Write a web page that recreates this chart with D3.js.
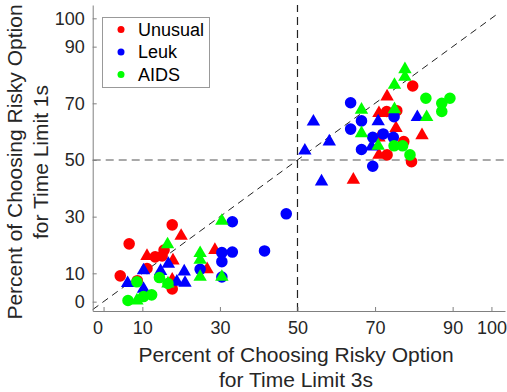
<!DOCTYPE html>
<html><head><meta charset="utf-8">
<script src="https://cdn.jsdelivr.net/npm/d3@7"></script>
<style>body{margin:0;background:#fff}svg{display:block;font-family:"Liberation Sans",Arial,sans-serif}</style>
</head><body><svg id="c" width="507" height="392"></svg>
<script>
const seriesNames = ["Unusual", "Leuk", "AIDS"];
const seriesColors = ["#ff0000", "#0000ff", "#00ff00"];
const tickValues = [0, 10, 30, 50, 70, 90, 100];

// Unusual (red)
const unusualX     = [6.6, 17.7, 4.3, 11.2, 13.3, 15.1, 15.6, 17.7, 8.7, 79.7, 73.0, 75.6, 77.4, 73.1, 79.4,
                      20.0, 11.2, 17.9, 28.7, 26.7, 17.7, 73.1, 71.0, 75.4, 82.1, 71.0, 71.0, 64.4];
const unusualY     = [20.4, 27.1, 9.1, 11.7, 15.8, 16.1, 18.2, 4.5, 7.4, 76.1, 67.1, 67.4, 56.5, 51.8, 49.4,
                      23.2, 16.1, 14.5, 18.2, 11.4, 7.7, 72.4, 66.5, 61.2, 58.7, 57.9, 51.8, 43.0];
const unusualShape = ["o","o","o","o","o","o","o","o","o","o","o","o","o","o","o",
                      "^","^","^","^","^","^","^","^","^","^","^","^","^"];
// Leuk (blue)
const leukX     = [33.2, 30.5, 33.2, 30.5, 24.9, 30.5, 41.5, 47.1, 63.7, 66.5, 63.7, 74.9, 69.4, 72.1, 74.7, 66.5, 69.4,
                   10.3, 14.7, 16.7, 20.8, 6.2, 10.3, 18.9, 21.0, 54.1, 58.2, 51.9, 56.2, 70.8, 80.9, 69.1];
const leukY     = [28.2, 17.3, 17.5, 14.1, 11.4, 8.7, 17.9, 31.0, 70.2, 63.8, 60.9, 65.3, 58.0, 59.2, 58.0, 53.7, 47.8,
                   11.0, 10.8, 13.3, 10.6, 6.5, 4.5, 7.0, 6.6, 63.5, 56.5, 53.3, 42.4, 63.6, 65.1, 54.7];
const leukShape = ["o","o","o","o","o","o","o","o","o","o","o","o","o","o","o","o","o",
                   "^","^","^","^","^","^","^","^","^","^","^","^","^","^","^"];
// AIDS (green)
const aidsX     = [8.6, 14.4, 6.3, 10.3, 12.4, 16.6, 83.1, 87.2, 89.3, 87.2, 74.9, 77.1, 79.0,
                   16.5, 24.9, 24.9, 24.9, 30.5, 30.5, 16.6, 8.6, 77.7, 77.7, 75.0, 66.5, 75.0, 83.3, 66.5, 70.8];
const aidsY     = [7.0, 8.5, 0.4, 1.8, 2.4, 6.4, 71.8, 70.0, 71.8, 67.1, 55.0, 55.0, 51.8,
                   20.2, 17.1, 14.7, 8.7, 28.5, 8.7, 6.4, 0.4, 82.0, 79.3, 76.5, 67.7, 67.9, 65.1, 59.4, 55.0];
const aidsShape = ["o","o","o","o","o","o","o","o","o","o","o","o","o",
                   "^","^","^","^","^","^","^","^","^","^","^","^","^","^","^","^"];

const series = [
  {xs: unusualX, ys: unusualY, shapes: unusualShape},
  {xs: leukX, ys: leukY, shapes: leukShape},
  {xs: aidsX, ys: aidsY, shapes: aidsShape}
];

const svg = d3.select("#c");
const x = d3.scaleLinear().domain([-2.8, 103.5]).range([92.7, 505]);
const y = d3.scaleLinear().domain([-3.3, 104.7]).range([311, 5]);
const axisColor = "#808080", textColor = "#262626";

// reference lines
svg.append("line").attr("x1", x(-2.8)).attr("y1", y(-2.8)).attr("x2", x(101.7)).attr("y2", y(101.7))
  .attr("stroke", "#222").attr("stroke-width", 1).attr("stroke-dasharray", "7,5");
svg.append("line").attr("x1", x(50)).attr("y1", y(-3.3)).attr("x2", x(50)).attr("y2", y(104.7))
  .attr("stroke", "#222").attr("stroke-width", 1.2).attr("stroke-dasharray", "8,5");
svg.append("line").attr("x1", x(-2.8)).attr("y1", y(50)).attr("x2", x(103.5)).attr("y2", y(50))
  .attr("stroke", "#555").attr("stroke-width", 1.2).attr("stroke-dasharray", "8,5");

// axes
const gx = svg.append("g").attr("transform", `translate(0,${y(-3.3)})`)
  .call(d3.axisBottom(x).tickValues(tickValues).tickSizeInner(-4).tickSizeOuter(0).tickPadding(10));
const gy = svg.append("g").attr("transform", `translate(${x(-2.8)},0)`)
  .call(d3.axisLeft(y).tickValues(tickValues).tickSizeInner(-4).tickSizeOuter(0).tickPadding(8));
[gx, gy].forEach(g => {
  g.select(".domain").attr("stroke", axisColor);
  g.selectAll(".tick line").attr("stroke", axisColor);
  g.selectAll(".tick text").attr("fill", textColor).style("font-size", "18px").style("font-family", "Liberation Sans, Arial, sans-serif");
});
gx.selectAll(".tick text").filter(d => d === 0).attr("dx", "-6");

// points
const symC = d3.symbol().type(d3.symbolCircle).size(105);
const symT = d3.symbol().type(d3.symbolTriangle).size(78);
series.forEach((s, i) => {
  const pts = s.xs.map((v, k) => ({x: v, y: s.ys[k], shape: s.shapes[k]}));
  svg.append("g").selectAll("path").data(pts).join("path")
    .attr("d", d => d.shape === "o" ? symC() : symT())
    .attr("transform", d => `translate(${x(d.x)},${y(d.y)})`)
    .attr("fill", seriesColors[i]);
});

// legend
const lg = svg.append("g");
lg.append("rect").attr("x", 102.5).attr("y", 17.5).attr("width", 107).attr("height", 70)
  .attr("fill", "#fff").attr("stroke", "#999").attr("stroke-width", 1);
seriesNames.forEach((n, i) => {
  const yy = 29.5 + i * 22.5;
  lg.append("circle").attr("cx", 121).attr("cy", yy).attr("r", 3.5).attr("fill", seriesColors[i]);
  lg.append("text").attr("x", 138).attr("y", yy).attr("dy", "0.35em").attr("fill", "#000")
    .style("font-size", "18px").text(n);
});

// axis labels
const xl = svg.append("text").attr("text-anchor", "middle").attr("fill", textColor).style("font-size", "21px");
xl.append("tspan").attr("x", 296).attr("y", 362).text("Percent of Choosing Risky Option");
xl.append("tspan").attr("x", 296).attr("y", 387).text("for Time Limit 3s");
const yl = svg.append("text").attr("text-anchor", "middle").attr("fill", textColor).style("font-size", "21px")
  .attr("transform", "translate(0,162) rotate(-90)");
yl.append("tspan").attr("x", 0).attr("y", 21.5).text("Percent of Choosing Risky Option");
yl.append("tspan").attr("x", 0).attr("y", 47.5).text("for Time Limit 1s");
</script></body></html>
